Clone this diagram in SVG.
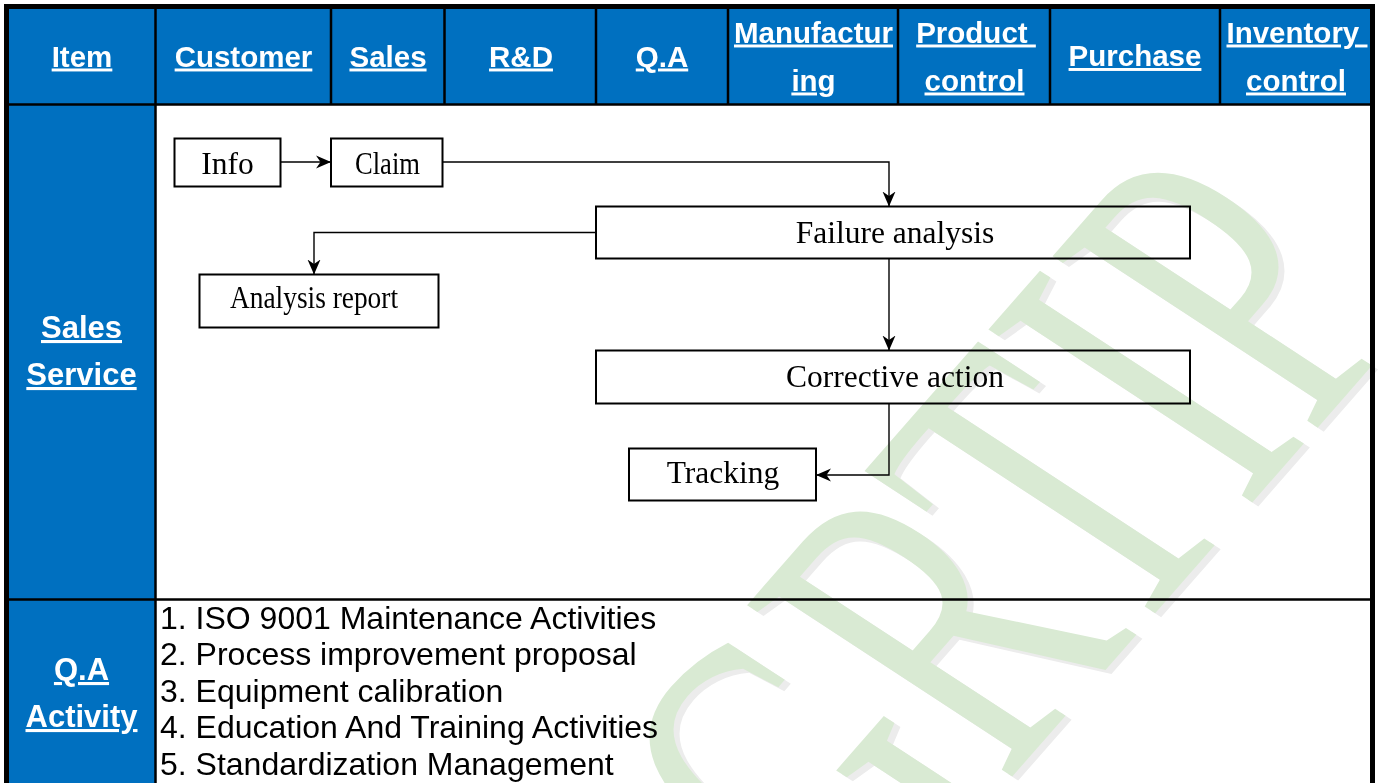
<svg xmlns="http://www.w3.org/2000/svg" width="1384" height="783" viewBox="0 0 1384 783">
<style>
.hdr{font-family:"Liberation Sans",Arial,sans-serif;font-weight:bold;font-size:29.5px;fill:#fff;text-anchor:middle;text-decoration:underline}
.lbl{font-family:"Liberation Sans",Arial,sans-serif;font-weight:bold;font-size:31px;fill:#fff;text-anchor:middle;text-decoration:underline}
.box{fill:#fff;stroke:#000;stroke-width:2}
.bt{font-family:"Liberation Serif","Times New Roman",serif;font-size:31.5px;fill:#000;text-anchor:middle}
.conn{fill:none;stroke:#000;stroke-width:1.4}
.list{font-family:"Liberation Sans",Arial,sans-serif;font-size:32px;fill:#000}
.grid{stroke:#000;fill:none}
.wm{font-family:"Liberation Serif","Times New Roman",serif;font-size:400px}
</style>
<defs>
<marker id="ah" markerUnits="userSpaceOnUse" markerWidth="18" markerHeight="16" refX="15" refY="8" orient="auto">
<path d="M0,1.5 L15,8 L0,14.5 L4.5,8 Z" fill="#000"/>
</marker>
</defs>
<rect x="0" y="0" width="1384" height="783" fill="#fff"/>
<g id="table">
<rect x="9" y="9" width="1361" height="96" fill="#0070c0"/>
<rect x="9" y="104" width="146" height="690" fill="#0070c0"/>
<path class="grid" stroke-width="5" d="M6.5,790 V6.5 H1372.5 V790"/>
<path class="grid" stroke-width="2.5" d="M9,104.5 H1370 M9,599.5 H1370 M155.5,9 V783"/>
<path class="grid" stroke-width="2.5" d="M331,9 V104 M444.5,9 V104 M596,9 V104 M728,9 V104 M898,9 V104 M1050,9 V104 M1220,9 V104"/>
</g>
<g id="header">
<text class="hdr" x="82" y="66.5">Item</text>
<text class="hdr" x="243.5" y="66.5">Customer</text>
<text class="hdr" x="388" y="66.5">Sales</text>
<text class="hdr" x="521" y="66.5">R&amp;D</text>
<text class="hdr" x="662" y="66.5">Q.A</text>
<text class="hdr" x="813.5" y="42.5">Manufactur</text>
<text class="hdr" x="813.5" y="90.5">ing</text>
<text class="hdr" x="976" y="42.5">Product&#160;</text>
<text class="hdr" x="974.5" y="90.5">control</text>
<text class="hdr" x="1135" y="66">Purchase</text>
<text class="hdr" x="1297" y="42.5">Inventory&#160;</text>
<text class="hdr" x="1296" y="90.5">control</text>
</g>
<g id="row-labels">
<text class="lbl" x="81.5" y="338">Sales</text>
<text class="lbl" x="81.5" y="385">Service</text>
<text class="lbl" x="81.5" y="680">Q.A</text>
<text class="lbl" x="81.5" y="727">Activity</text>
</g>
<g id="node-info"><rect class="box" x="174.5" y="138.5" width="106" height="48"/><text class="bt" x="227.5" y="174">Info</text></g>
<g id="node-claim"><rect class="box" x="331" y="138.5" width="111.5" height="48"/><text class="bt" x="387.5" y="174" textLength="65" lengthAdjust="spacingAndGlyphs">Claim</text></g>
<g id="node-failure"><rect class="box" x="596" y="206.5" width="594" height="52"/><text class="bt" x="895" y="243">Failure analysis</text></g>
<g id="node-report"><rect class="box" x="199.5" y="274.5" width="239" height="53"/><text class="bt" x="314" y="308" textLength="168" lengthAdjust="spacingAndGlyphs">Analysis report</text></g>
<g id="node-corrective"><rect class="box" x="596" y="350.5" width="594" height="53"/><text class="bt" x="895" y="387">Corrective action</text></g>
<g id="node-tracking"><rect class="box" x="629" y="448.5" width="187" height="52"/><text class="bt" x="723" y="483">Tracking</text></g>
<g id="connectors">
<path class="conn" d="M280.5,162 H331" marker-end="url(#ah)"/>
<path class="conn" d="M442.5,162 H889 V206.5" marker-end="url(#ah)"/>
<path class="conn" d="M596,232.5 H314 V274.5" marker-end="url(#ah)"/>
<path class="conn" d="M889,258.5 V350.5" marker-end="url(#ah)"/>
<path class="conn" d="M889,403.5 V475 H816" marker-end="url(#ah)"/>
</g>
<g id="qa-list">
<text class="list" x="160" y="628.5">1. ISO 9001 Maintenance Activities</text>
<text class="list" x="160" y="665">2. Process improvement proposal</text>
<text class="list" x="160" y="701.5">3. Equipment calibration</text>
<text class="list" x="160" y="738">4. Education And Training Activities</text>
<text class="list" x="160" y="775">5. Standardization Management</text>
</g>
<g id="watermark" style="mix-blend-mode:multiply">
<text class="wm" fill="#ececec" transform="matrix(0.4925,-0.5625,1.0075,0.66,869,951)">GRTIP</text>
<text class="wm" fill="#d9ead3" transform="matrix(0.4925,-0.5625,1.0075,0.66,863,947)">GRTIP</text>
</g>
</svg>
